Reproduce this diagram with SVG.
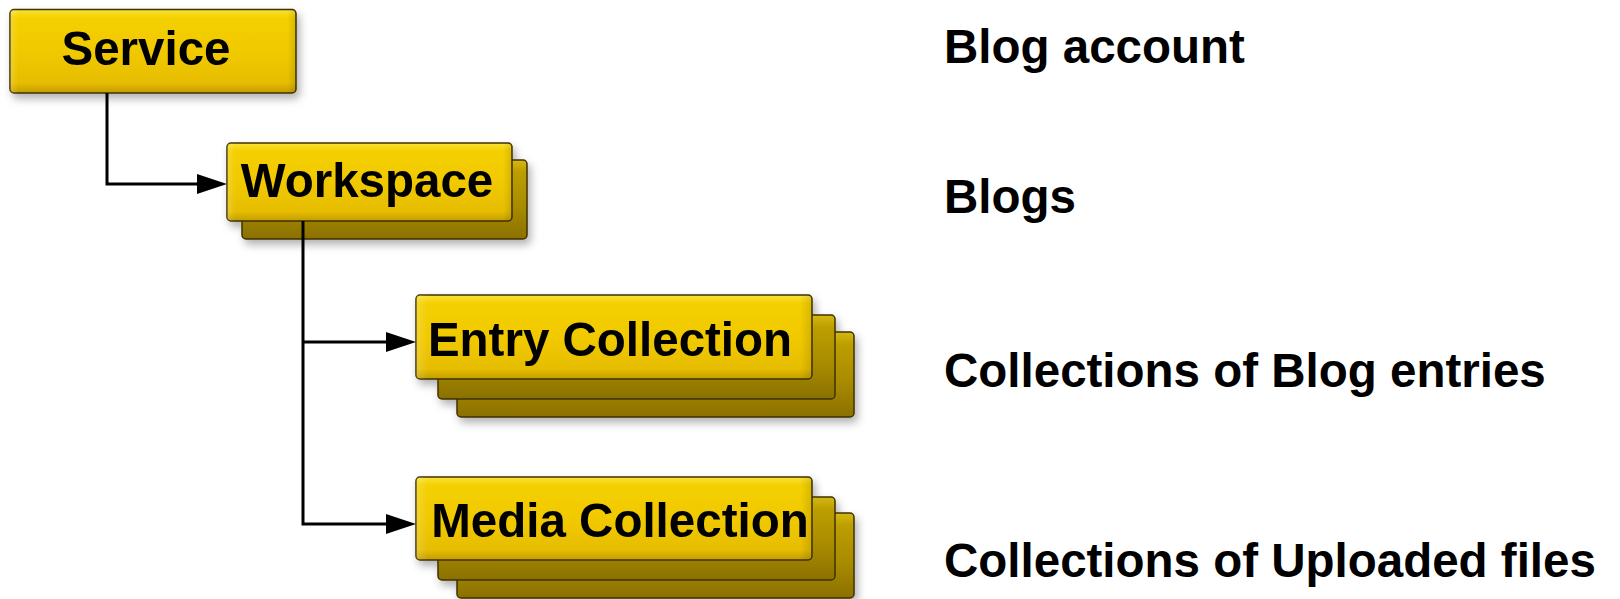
<svg xmlns="http://www.w3.org/2000/svg" width="1620" height="599" viewBox="0 0 1620 599">
  <defs>
    <linearGradient id="gFront" x1="0" y1="0" x2="0" y2="1">
      <stop offset="0" stop-color="#fae23a"/>
      <stop offset="0.1" stop-color="#f4d000"/>
      <stop offset="0.55" stop-color="#f0c800"/>
      <stop offset="0.88" stop-color="#e6bd00"/>
      <stop offset="1" stop-color="#c49c00"/>
    </linearGradient>
    <linearGradient id="gBack" x1="0" y1="0" x2="0" y2="1">
      <stop offset="0" stop-color="#d6b810"/>
      <stop offset="0.15" stop-color="#bc9e00"/>
      <stop offset="0.6" stop-color="#a88a00"/>
      <stop offset="1" stop-color="#8a7000"/>
    </linearGradient>
    <linearGradient id="gSide" x1="0" y1="0" x2="1" y2="0">
      <stop offset="0" stop-color="#ffffff" stop-opacity="0.18"/>
      <stop offset="0.03" stop-color="#ffffff" stop-opacity="0"/>
      <stop offset="0.97" stop-color="#000000" stop-opacity="0"/>
      <stop offset="1" stop-color="#000000" stop-opacity="0.12"/>
    </linearGradient>
    <filter id="shadow" x="-10%" y="-20%" width="125%" height="150%">
      <feDropShadow dx="3" dy="5" stdDeviation="4" flood-color="#000000" flood-opacity="0.3"/>
    </filter>
    <marker id="arrow" markerUnits="userSpaceOnUse" markerWidth="31" markerHeight="21" refX="0" refY="10" orient="auto">
      <path d="M0,0 L30,10 L0,20 Z" fill="#000000"/>
    </marker>
    <style>
      .front { fill: url(#gFront); stroke: #3e3200; stroke-width: 1.5; }
      .back { fill: url(#gBack); stroke: #3e3200; stroke-width: 1.5; }
      .side { fill: url(#gSide); stroke: none; }
      .lbl { font-family: "Liberation Sans", Arial, sans-serif; font-weight: bold; font-size: 47.5px; fill: #000000; }
      .box { text-anchor: middle; }
      .conn { fill: none; stroke: #000000; stroke-width: 3; }
    </style>
  </defs>

  <rect width="1620" height="599" fill="#ffffff"/>

  <g id="service" filter="url(#shadow)">
    <rect class="front" x="10" y="9.5" width="286" height="83.5" rx="4"/>
    <rect class="side" x="10" y="9.5" width="286" height="83.5" rx="4"/>
    <text class="lbl box" x="146" y="65">Service</text>
  </g>

  <g id="workspace" filter="url(#shadow)">
    <rect class="back" x="242" y="160" width="285" height="79" rx="4"/>
    <rect class="front" x="227" y="143" width="285" height="78" rx="4"/>
    <rect class="side" x="227" y="143" width="285" height="78" rx="4"/>
    <text class="lbl box" x="367" y="197">Workspace</text>
  </g>

  <g id="entry-collection" filter="url(#shadow)">
    <rect class="back" x="457" y="332" width="397" height="85" rx="4"/>
    <rect class="back" x="438" y="315" width="397" height="84" rx="4"/>
    <rect class="front" x="416" y="295" width="396" height="84" rx="4"/>
    <rect class="side" x="416" y="295" width="396" height="84" rx="4"/>
    <text class="lbl box" x="610" y="356">Entry Collection</text>
  </g>

  <g id="media-collection" filter="url(#shadow)">
    <rect class="back" x="457" y="513" width="397" height="85" rx="4"/>
    <rect class="back" x="438" y="497" width="397" height="83" rx="4"/>
    <rect class="front" x="416" y="477" width="396" height="83" rx="4"/>
    <rect class="side" x="416" y="477" width="396" height="83" rx="4"/>
    <text class="lbl box" x="620" y="537">Media Collection</text>
  </g>

  <g id="connectors">
    <path class="conn" d="M107,93 V184 H197" marker-end="url(#arrow)"/>
    <path class="conn" d="M303,221 V524 H386" marker-end="url(#arrow)"/>
    <path class="conn" d="M303,342 H386" marker-end="url(#arrow)"/>
  </g>

  <g id="descriptions">
    <text class="lbl" x="944" y="63">Blog account</text>
    <text class="lbl" x="944" y="213">Blogs</text>
    <text class="lbl" x="944" y="387">Collections of Blog entries</text>
    <text class="lbl" x="944" y="577">Collections of Uploaded files</text>
  </g>
</svg>
